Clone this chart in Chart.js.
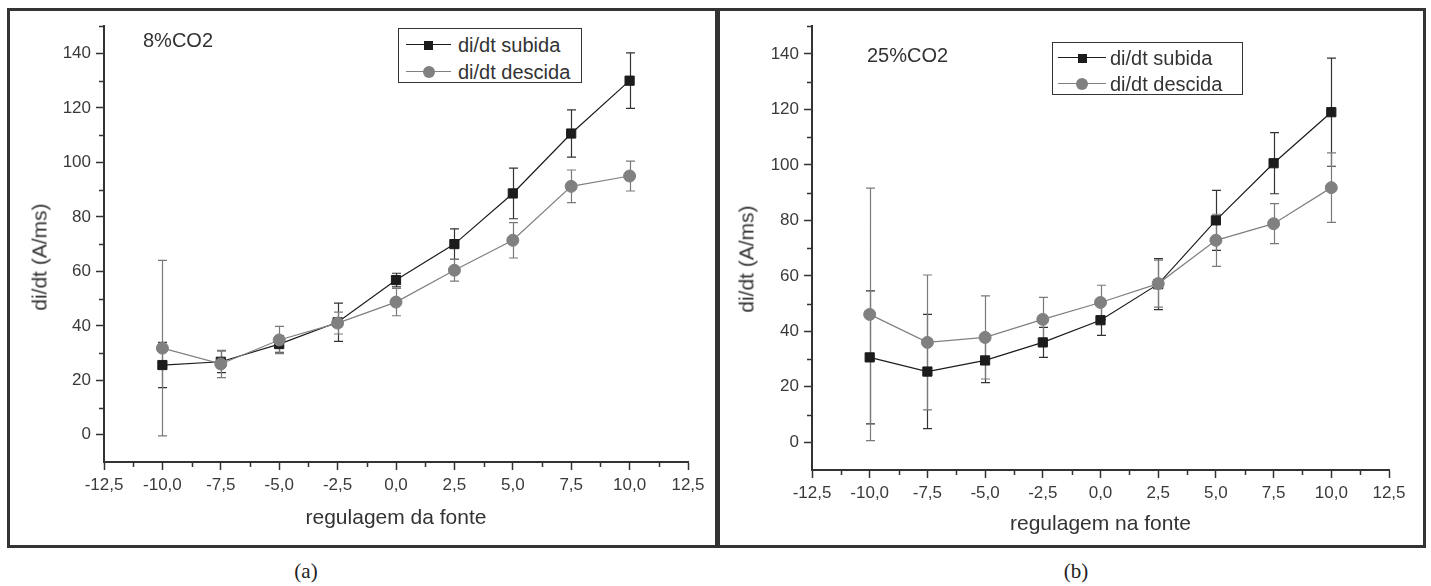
<!DOCTYPE html>
<html lang="pt">
<head>
<meta charset="UTF-8">
<title>di/dt x regulagem da fonte</title>
<script src="https://cdn.jsdelivr.net/npm/chart.js"></script>
<style>
  body {
    margin: 0;
    width: 1431px;
    height: 586px;
    overflow: hidden;
    background: #fff;
    position: relative;
    font-family: "Liberation Sans", Arial, sans-serif;
    color: #333;
  }
  .frame {
    position: absolute;
    top: 8px;
    height: 534px;
    border: 3px solid #333;
  }
  .frame canvas { position: absolute; left: 0; top: 0; }
  .note { position: absolute; font-size: 20px; line-height: 1; color: #333; white-space: nowrap; }
  .ytitle { position: absolute; font-size: 21px; line-height: 1; color: #333; white-space: nowrap; transform: translate(-50%, -50%) rotate(-90deg); }
  .caption { position: absolute; font-family: "Liberation Serif", "Times New Roman", serif; font-size: 21px; line-height: 1; color: #222; transform: translateX(-50%); }
  .legend { position: absolute; border: 1px solid #333; background: #fff; box-sizing: border-box; }
  .legend .row { position: absolute; left: 0; right: 0; height: 0; }
  .legend .line { position: absolute; height: 0; border-top: 1.2px solid; top: -0.6px; }
  .legend .mark { position: absolute; }
  .legend .txt { position: absolute; top: -11px; font-size: 20px; line-height: 22px; color: #333; white-space: nowrap; }
</style>
</head>
<body>
  <div class="frame" style="left:7px; width:705px;"><canvas id="chartA" width="705" height="534"></canvas></div>
  <div class="frame" style="left:717px; width:703px;"><canvas id="chartB" width="703" height="534"></canvas></div>

  <div class="note" style="left:143px; top:30px;" id="noteA"></div>
  <div class="note" style="left:867px; top:45px;" id="noteB"></div>
  <div class="ytitle" style="left:39px; top:257px;" id="yTitleA"></div>
  <div class="ytitle" style="left:746px; top:259px;" id="yTitleB"></div>
  <div class="caption" style="left:306px; top:561px;" id="capA"></div>
  <div class="caption" style="left:1076px; top:561px;" id="capB"></div>

<script>
// regulagem da fonte (eixo x)
const xValues = [-10, -7.5, -5, -2.5, 0, 2.5, 5, 7.5, 10];

// (a) 8% CO2
const subidaA     = [25.6, 26.8, 33.3, 41.3, 56.8, 70.0, 88.6, 110.6, 130.0];
const subidaErrA  = [8.3, 4.0, 3.0, 7.0, 2.5, 5.6, 9.3, 8.7, 10.2];
const descidaA    = [31.8, 26.0, 34.8, 41.0, 48.7, 60.4, 71.4, 91.2, 95.0];
const descidaErrA = [32.2, 5.0, 5.0, 4.0, 5.0, 4.0, 6.5, 6.0, 5.5];

// (b) 25% CO2
const subidaB     = [30.6, 25.5, 29.5, 36.0, 44.0, 57.0, 80.0, 100.6, 119.0];
const subidaErrB  = [24.0, 20.6, 8.0, 5.4, 5.5, 9.2, 10.8, 11.0, 19.5];
const descidaB    = [46.1, 36.0, 37.8, 44.3, 50.4, 57.2, 72.8, 78.8, 91.8];
const descidaErrB = [45.5, 24.3, 15.0, 7.9, 6.2, 8.5, 9.4, 7.2, 12.5];

const seriesNames = ['di/dt subida', 'di/dt descida'];
const panelNotes = ['8%CO2', '25%CO2'];
const captions = ['(a)', '(b)'];
const xTitles = ['regulagem da fonte', 'regulagem na fonte'];
const yTitle = 'di/dt (A/ms)';

const xTickValues = [-12.5, -10, -7.5, -5, -2.5, 0, 2.5, 5, 7.5, 10, 12.5];
const xMinorValues = [-11.25, -8.75, -6.25, -3.75, -1.25, 1.25, 3.75, 6.25, 8.75, 11.25];
const yTickValues = [0, 20, 40, 60, 80, 100, 120, 140];
const yMinorValues = [10, 30, 50, 70, 90, 110, 130, 150];

const FONT = '"Liberation Sans", Arial, sans-serif';
const AXIS = '#333';
const SUB_COLOR = '#1c1c1c';
const DES_COLOR = '#808080';

document.getElementById('noteA').textContent = panelNotes[0];
document.getElementById('noteB').textContent = panelNotes[1];
document.getElementById('yTitleA').textContent = yTitle;
document.getElementById('yTitleB').textContent = yTitle;
document.getElementById('capA').textContent = captions[0];
document.getElementById('capB').textContent = captions[1];

const errorBars = {
  id: 'errorBars',
  beforeDatasetsDraw(chart) {
    const { ctx, scales: { x, y } } = chart;
    chart.data.datasets.forEach(ds => {
      ctx.save();
      ctx.strokeStyle = ds.errColor;
      ctx.lineWidth = 1.2;
      ctx.beginPath();
      ds.data.forEach((p, i) => {
        const e = ds.errors[i];
        const px = Math.round(x.getPixelForValue(p.x)) + 0.5;
        const top = y.getPixelForValue(p.y + e);
        const bot = y.getPixelForValue(p.y - e);
        ctx.moveTo(px, top); ctx.lineTo(px, bot);
        ctx.moveTo(px - 4.5, top); ctx.lineTo(px + 4.5, top);
        ctx.moveTo(px - 4.5, bot); ctx.lineTo(px + 4.5, bot);
      });
      ctx.stroke();
      ctx.restore();
    });
  }
};

const minorTicks = {
  id: 'minorTicks',
  afterDraw(chart) {
    const { ctx, chartArea: a, scales: { x, y } } = chart;
    ctx.save();
    ctx.strokeStyle = AXIS;
    ctx.lineWidth = 1.5;
    ctx.beginPath();
    yMinorValues.forEach(v => {
      const py = Math.round(y.getPixelForValue(v)) + 0.5;
      ctx.moveTo(a.left - 5, py); ctx.lineTo(a.left, py);
    });
    xMinorValues.forEach(v => {
      const px = Math.round(x.getPixelForValue(v)) + 0.5;
      ctx.moveTo(px, a.bottom); ctx.lineTo(px, a.bottom + 5);
    });
    ctx.stroke();
    ctx.restore();
  }
};

function points(ys) {
  return xValues.map((x, i) => ({ x: x, y: ys[i] }));
}

function makeChart(id, sub, subErr, des, desErr, xTitle, L) {
  return new Chart(document.getElementById(id), {
    type: 'line',
    data: {
      datasets: [
        {
          label: seriesNames[0], data: points(sub), errors: subErr, errColor: '#333',
          borderColor: SUB_COLOR, borderWidth: 1.2, backgroundColor: SUB_COLOR,
          pointStyle: 'rect', pointRadius: 6.5, pointBorderWidth: 1, order: 2
        },
        {
          label: seriesNames[1], data: points(des), errors: desErr, errColor: '#7a7a7a',
          borderColor: DES_COLOR, borderWidth: 1.2, backgroundColor: DES_COLOR,
          pointStyle: 'circle', pointRadius: 6, pointBorderWidth: 1, order: 1
        }
      ]
    },
    options: {
      responsive: false,
      animation: false,
      devicePixelRatio: 1,
      layout: { padding: { left: 0, top: L.top, right: L.right, bottom: 0 } },
      plugins: { legend: { display: false }, tooltip: { enabled: false } },
      scales: {
        x: {
          type: 'linear', min: -12.5, max: 12.5,
          afterBuildTicks: s => { s.ticks = xTickValues.map(v => ({ value: v })); },
          afterFit: s => { s.height = L.xAxisHeight; },
          grid: { drawOnChartArea: false, drawTicks: true, tickLength: 8, tickColor: AXIS, tickWidth: 1.5 },
          border: { display: true, color: AXIS, width: 2 },
          ticks: {
            color: '#3a3a3a', font: { family: FONT, size: 17 }, padding: 5,
            autoSkip: false, maxRotation: 0,
            callback: v => v.toFixed(1).replace('.', ',')
          },
          title: {
            display: true, text: xTitle, color: '#333',
            font: { family: FONT, size: 21 }, padding: { top: 0, bottom: L.xTitlePad }
          }
        },
        y: {
          type: 'linear', min: -10, max: 150,
          afterBuildTicks: s => { s.ticks = yTickValues.map(v => ({ value: v })); },
          afterFit: s => { s.width = L.yAxisWidth; },
          grid: { drawOnChartArea: false, drawTicks: true, tickLength: 8, tickColor: AXIS, tickWidth: 1.5 },
          border: { display: true, color: AXIS, width: 2 },
          ticks: {
            color: '#3a3a3a', font: { family: FONT, size: 17 }, padding: 5,
            callback: v => String(v)
          },
          title: { display: false }
        }
      }
    },
    plugins: [errorBars, minorTicks]
  });
}

const chartA = makeChart('chartA', subidaA, subidaErrA, descidaA, descidaErrA, xTitles[0],
  { top: 13, right: 27, xAxisHeight: 83, yAxisWidth: 94, xTitlePad: 14 });
const chartB = makeChart('chartB', subidaB, subidaErrB, descidaB, descidaErrB, xTitles[1],
  { top: 14, right: 34, xAxisHeight: 75, yAxisWidth: 92, xTitlePad: 8 });

// legend boxes drawn in HTML from the dataset styles
function makeLegend(chart, box) {
  const el = document.createElement('div');
  el.className = 'legend';
  Object.assign(el.style, { left: box.left + 'px', top: box.top + 'px', width: box.width + 'px', height: box.height + 'px' });
  chart.data.datasets.forEach((ds, i) => {
    const row = document.createElement('div');
    row.className = 'row';
    row.style.top = box.rows[i] + 'px';
    const line = document.createElement('div');
    line.className = 'line';
    Object.assign(line.style, { left: box.lineFrom + 'px', width: (box.lineTo - box.lineFrom) + 'px', borderColor: ds.borderColor });
    const mark = document.createElement('div');
    mark.className = 'mark';
    const size = ds.pointStyle === 'rect' ? 9 : 12;
    const mid = (box.lineFrom + box.lineTo) / 2;
    Object.assign(mark.style, {
      width: size + 'px', height: size + 'px', left: (mid - size / 2) + 'px', top: (-size / 2) + 'px',
      background: ds.backgroundColor, borderRadius: ds.pointStyle === 'rect' ? '0' : '50%'
    });
    const txt = document.createElement('div');
    txt.className = 'txt';
    txt.style.left = box.textLeft + 'px';
    txt.textContent = ds.label;
    row.append(line, mark, txt);
    el.appendChild(row);
  });
  document.body.appendChild(el);
}

makeLegend(chartA, { left: 398, top: 28, width: 184, height: 55, rows: [16, 43], lineFrom: 7, lineTo: 52, textLeft: 59 });
makeLegend(chartB, { left: 1052, top: 42, width: 191, height: 53, rows: [15, 41], lineFrom: 5, lineTo: 53, textLeft: 57 });
</script>
</body>
</html>
